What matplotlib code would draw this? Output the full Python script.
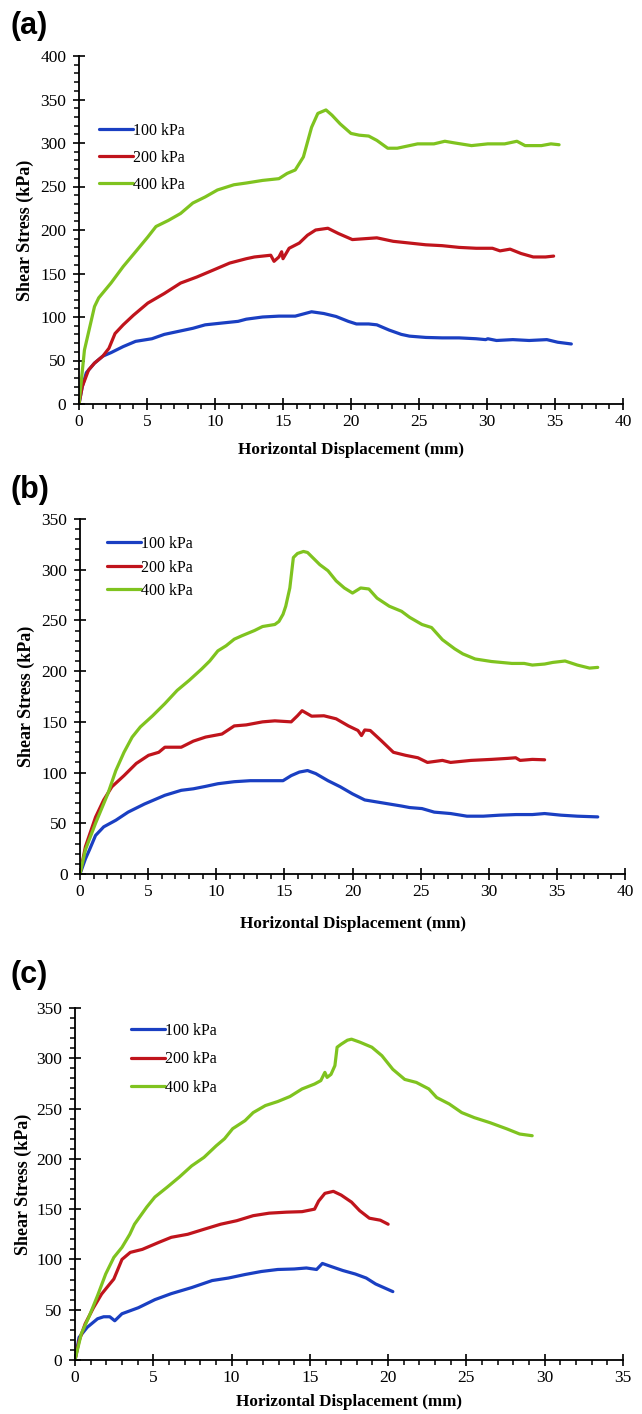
import numpy as np
import matplotlib
matplotlib.use("Agg")
import matplotlib.pyplot as plt
from matplotlib.ticker import MultipleLocator

# legend entries / colours
labels = ['100 kPa', '200 kPa', '400 kPa']
colors = ['#1a3fc2', '#c0141c', '#7fc31f']

# ---- panel (a) ----
a_100_x = [0, 0.24, 0.54, 1.14, 1.75, 2.35, 3.25, 4.16, 5.36, 6.27, 7.17, 8.37, 9.28, 10.48, 11.7, 12.3,
           13.5, 14.7, 15.9, 17.1, 18.0, 18.9, 19.8, 20.4, 21.3, 21.9, 22.8, 23.7, 24.3, 25.5, 26.7, 27.95,
           29.2, 29.9, 30.06, 30.7, 31.9, 33.1, 34.4, 35.2, 36.2]
a_100_y = [0, 20, 36, 47, 55, 59, 66, 72, 75, 80, 83, 87, 91, 93, 95, 97.5,
           100, 101, 101, 106, 104, 100.6, 95, 92, 92, 91, 85, 80, 78, 76.5, 76, 76,
           75, 74, 75, 73, 74, 73, 74, 71, 69]
a_200_x = [0, 0.24, 0.7, 1.14, 1.75, 2.2, 2.65, 3.25, 4.0, 5.06, 6.27, 7.47, 8.67, 9.88, 11.08, 12.3,
           12.9, 14.1, 14.34, 14.7, 14.9, 15.0, 15.45, 16.2, 16.8, 17.4, 18.3, 19.07, 20.1, 21.0, 21.9,
           23.1, 24.3, 25.5, 26.7, 27.95, 29.2, 30.4, 30.96, 31.7, 32.5, 33.4, 34.3, 34.9]
a_200_y = [0, 20, 39, 47, 55, 64, 81, 91, 102, 116, 127, 139, 146, 154, 162, 167,
           169, 171, 164, 169, 175, 167, 179, 185, 194, 200, 202, 196, 189, 190, 191,
           187, 185, 183, 182, 180, 179, 179, 176, 178, 173, 169, 169, 170]
a_400_x = [0, 0.4, 1.14, 1.45, 2.35, 3.25, 4.16, 5.06, 5.66, 6.57, 7.47, 8.37, 9.28, 10.18, 11.39, 12.3,
           13.5, 14.7, 15.3, 15.9, 16.5, 17.1, 17.56, 18.16, 18.6, 19.2, 20.0, 20.6, 21.3, 21.9, 22.7,
           23.4, 24.3, 24.9, 26.1, 26.9, 27.65, 28.86, 30.06, 31.3, 32.2, 32.8, 34.0, 34.7, 35.3]
a_400_y = [0, 62, 112, 122, 139, 158, 175, 192, 204, 211, 219, 231, 238, 246, 252, 254,
           257, 259, 265, 269, 284, 318, 334, 338, 332, 322, 311, 309, 308, 303, 294,
           294, 297, 299, 299, 302, 300, 297, 299, 299, 302, 297, 297, 299, 298]

# ---- panel (b) ----
b_100_x = [0, 0.4, 0.7, 1.14, 1.74, 2.63, 3.53, 4.73, 6.23, 7.43, 8.32, 9.22, 10.12, 11.32, 12.5, 14.0,
           14.9, 15.5, 16.1, 16.7, 17.3, 18.2, 19.1, 20.0, 20.9, 21.8, 22.7, 23.6, 24.2, 25.1, 26.0,
           27.2, 28.4, 29.6, 30.8, 32.0, 33.2, 34.1, 35.3, 36.5, 38.0]
b_100_y = [0, 15, 24, 38, 46.5, 53, 61, 69, 77.6, 82.5, 84, 86.4, 89, 91, 92, 92,
           92, 97, 100.5, 102, 99, 92, 86, 79, 73, 71, 69, 67, 65.5, 64.5, 61,
           59.6, 57, 57, 58, 58.6, 58.6, 59.6, 58, 57, 56.3]
b_200_x = [0, 0.4, 1.14, 1.74, 2.34, 3.23, 4.13, 5.03, 5.78, 6.23, 7.43, 8.32, 9.22, 10.42, 11.32, 12.2,
           13.4, 14.3, 15.5, 15.96, 16.3, 17.0, 17.9, 18.8, 19.7, 20.4, 20.66, 20.9, 21.3, 22.1, 23.0,
           23.9, 24.8, 25.5, 26.6, 27.2, 28.7, 30.2, 31.4, 31.98, 32.3, 33.2, 34.1]
b_200_y = [0, 27, 56, 73, 86, 97, 109, 117, 120, 125, 125, 131, 135, 138, 146, 147,
           150, 151, 150, 156, 161, 155.6, 156, 153, 146, 141.5, 136.5, 142, 141.5, 131.6, 120,
           117, 114.6, 110, 112, 110, 112, 113, 114, 114.6, 112, 113, 112.6]
b_400_x = [0, 0.4, 1.14, 2.04, 2.63, 3.23, 3.83, 4.43, 5.33, 6.23, 7.13, 8.02, 8.92, 9.52, 10.12, 10.72,
           11.32, 11.9, 12.8, 13.4, 14.3, 14.6, 14.9, 15.1, 15.4, 15.66, 15.96, 16.4, 16.7, 17.0, 17.6,
           18.2, 18.8, 19.4, 20.0, 20.6, 21.2, 21.8, 22.7, 23.6, 24.2, 25.1, 25.8, 26.6, 27.5, 28.1,
           29.0, 30.2, 31.7, 32.6, 33.2, 34.1, 34.7, 35.6, 36.5, 37.4, 38.0]
b_400_y = [0, 24, 50, 79, 102, 120, 135, 145, 156, 168, 181, 191, 202, 210, 220, 225,
           231.5, 235, 240, 244, 246, 249, 256, 264, 282, 312, 316, 318, 317, 313, 305,
           299, 289, 282, 277, 282, 281, 272, 264, 259, 253, 246, 243, 231, 222, 217,
           212, 209.5, 207.6, 207.6, 206, 207, 208.6, 210, 206, 203, 203.7]

# ---- panel (c) ----
c_100_x = [0, 0.26, 0.78, 1.44, 1.83, 2.22, 2.54, 3.0, 4.05, 5.1, 6.15, 7.45, 8.76, 9.8, 10.86, 11.9,
           12.95, 14.0, 14.78, 15.43, 15.8, 16.35, 17.1, 17.9, 18.6, 19.2, 20.3]
c_100_y = [0, 22.5, 32.5, 41, 43, 43, 39, 46, 52, 60, 66, 72, 79, 81.5, 85, 88,
           90, 90.5, 91.5, 90, 96, 93, 89, 85.5, 81.5, 75.6, 68]
c_200_x = [0, 0.26, 0.65, 1.18, 1.7, 2.22, 2.48, 3.0, 3.53, 4.3, 5.36, 6.15, 7.2, 8.24, 9.3, 10.33,
           11.38, 12.4, 13.5, 14.5, 15.3, 15.56, 15.96, 16.5, 17.0, 17.66, 18.18, 18.8, 19.5, 20.0]
c_200_y = [0, 19, 36, 52, 65.6, 75.6, 80.5, 100, 107, 110, 117, 122, 125, 130, 135, 138.5,
           143.5, 146, 147, 147.5, 150, 158, 165.7, 167.7, 164, 157, 148.5, 141, 139, 135]
c_400_x = [0, 0.4, 0.92, 1.44, 1.96, 2.48, 3.0, 3.5, 3.8, 4.58, 5.1, 5.9, 6.67, 7.45, 8.24, 9.02,
           9.55, 10.07, 10.86, 11.38, 12.16, 12.95, 13.73, 14.5, 15.3, 15.7, 15.96, 16.1, 16.35, 16.6,
           16.74, 17.0, 17.4, 17.66, 18.2, 18.96, 19.6, 20.3, 21.06, 21.8, 22.6, 23.1, 23.9, 24.7,
           25.5, 26.5, 27.6, 28.4, 29.2]
c_400_y = [0, 26, 44, 64, 85.5, 102, 112, 125, 135, 152, 162, 172, 182, 193, 201.5, 213,
           220, 230, 238, 246, 253, 257, 262, 269.5, 274.4, 277.8, 286, 281, 284, 292.7,
           311, 314, 318, 319, 316, 311, 302.6, 289, 279, 276, 269.5, 261, 254.6, 246,
           241, 236, 229.7, 224.7, 223]

panels = [
    ('(a)', [(a_100_x, a_100_y), (a_200_x, a_200_y), (a_400_x, a_400_y)], 40, 400),
    ('(b)', [(b_100_x, b_100_y), (b_200_x, b_200_y), (b_400_x, b_400_y)], 40, 350),
    ('(c)', [(c_100_x, c_100_y), (c_200_x, c_200_y), (c_400_x, c_400_y)], 35, 350),
]

W, H = 642, 1414
fig = plt.figure(figsize=(W / 100, H / 100), dpi=100)

# axes boxes in pixels: left, right, top, bottom
boxes = [(79, 623, 56, 404), (80, 625, 519, 874), (75, 623, 1008, 1360)]
legend_pos = [(99, 123), (107, 536), (131, 1023)]
legend_sp = [0.68, 0.47, 0.77]
panel_lab_pos = [(10, 26), (10, 490), (10, 975)]
xlab_pad = [9, 11.5, 6]
ylab_pad = [5, 5, 3]

serif = 'Liberation Serif'

for i, (tag, series, xmax, ymax) in enumerate(panels):
    l, r, t, b = boxes[i]
    ax = fig.add_axes([l / W, 1 - b / H, (r - l) / W, (b - t) / H])
    for (xs, ys), c, lab in zip(series, colors, labels):
        ax.plot(xs, ys, color=c, lw=2.3, label=lab, solid_capstyle='round')
    ax.set_xlim(0, xmax)
    ax.set_ylim(0, ymax)
    ax.xaxis.set_major_locator(MultipleLocator(5))
    ax.xaxis.set_minor_locator(MultipleLocator(1))
    ax.yaxis.set_major_locator(MultipleLocator(50))
    ax.yaxis.set_minor_locator(MultipleLocator(10))
    ax.tick_params(which='major', direction='inout', length=8, width=1.2, labelsize=12.5)
    ax.tick_params(which='minor', direction='out', length=3.5, width=1.1)
    ax.tick_params(axis='x', which='major', pad=3)
    ax.tick_params(axis='y', which='major', pad=5)
    for s in ['top', 'right']:
        ax.spines[s].set_visible(False)
    for s in ['left', 'bottom']:
        ax.spines[s].set_linewidth(1.3)
    for lbl in ax.get_xticklabels() + ax.get_yticklabels():
        lbl.set_family(serif)
    ax.set_xlabel('Horizontal Displacement (mm)', family=serif, fontweight='bold',
                  fontsize=12.3, labelpad=xlab_pad[i])
    ax.set_ylabel('Shear Stress (kPa)', family=serif, fontweight='bold', fontsize=13,
                  labelpad=ylab_pad[i])
    lx, ly = legend_pos[i]
    ax.legend(loc='upper left', bbox_to_anchor=(lx / W, 1 - ly / H), bbox_transform=fig.transFigure,
              frameon=False, prop={'family': serif, 'size': 11.5}, handlelength=2.1,
              handletextpad=0.05, labelspacing=legend_sp[i], borderaxespad=0, borderpad=0)
    px, py = panel_lab_pos[i]
    fig.text(px / W, 1 - py / H, tag, family='Liberation Sans', fontweight='bold',
             fontsize=22, va='center', ha='left')

fig.savefig('out.png', dpi=100)
